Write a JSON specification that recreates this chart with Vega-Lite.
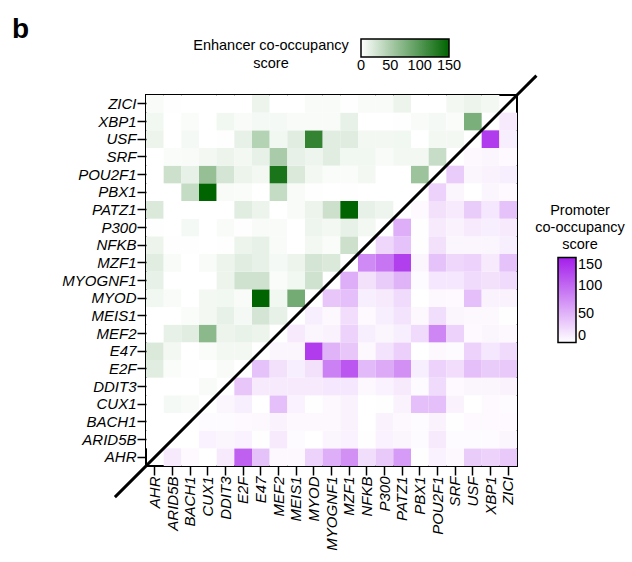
{
 "$schema": "https://vega.github.io/schema/vega-lite/v6.json",
 "width": 371,
 "height": 371,
 "autosize": {"type": "none"},
 "padding": {"left": 146, "top": 95, "right": 115, "bottom": 96},
 "title": {"text": "b", "anchor": "start", "frame": "group", "fontSize": 28, "fontWeight": "bold", "font": "Liberation Sans", "color": "black", "dx": -134, "dy": 9},
 "config": {
  "view": {"stroke": "black", "strokeWidth": 2},
  "font": "Liberation Sans",
  "axis": {"domain": false, "ticks": true, "tickColor": "black", "tickWidth": 1.5, "tickSize": 9, "labelColor": "black", "labelFontSize": 15, "labelFontStyle": "italic", "labelFont": "Liberation Sans", "labelPadding": 1},
  "legend": {"labelFontSize": 14.5, "labelColor": "black", "titleFontSize": 14.5, "titleFontWeight": "normal", "titleColor": "black", "titleFont": "Liberation Sans", "labelFont": "Liberation Sans", "gradientStrokeColor": "black", "gradientStrokeWidth": 1.5, "titleLineHeight": 18, "labelOverlap": false}
 },
 "datasets": {
  "pairs": [
   {"a":"AHR","b":"ARID5B","e":0,"p":14},{"a":"AHR","b":"BACH1","e":0,"p":4},{"a":"AHR","b":"CUX1","e":0,"p":0},{"a":"AHR","b":"DDIT3","e":0,"p":14},{"a":"AHR","b":"E2F","e":17,"p":106},{"a":"AHR","b":"E47","e":21,"p":41},{"a":"AHR","b":"MEF2","e":0,"p":5},{"a":"AHR","b":"MEIS1","e":0,"p":5},{"a":"AHR","b":"MYOD","e":8,"p":30},{"a":"AHR","b":"MYOGNF1","e":14,"p":54},{"a":"AHR","b":"MZF1","e":17,"p":74},{"a":"AHR","b":"NFKB","e":11,"p":23},{"a":"AHR","b":"P300","e":1,"p":36},{"a":"AHR","b":"PATZ1","e":21,"p":67},{"a":"AHR","b":"PBX1","e":0,"p":1},{"a":"AHR","b":"POU2F1","e":0,"p":9},{"a":"AHR","b":"SRF","e":0,"p":5},{"a":"AHR","b":"USF","e":11,"p":34},{"a":"AHR","b":"XBP1","e":8,"p":30},{"a":"AHR","b":"ZICI","e":4,"p":36},
   {"a":"ARID5B","b":"BACH1","e":0,"p":0},{"a":"ARID5B","b":"CUX1","e":6,"p":9},{"a":"ARID5B","b":"DDIT3","e":0,"p":7},{"a":"ARID5B","b":"E2F","e":3,"p":9},{"a":"ARID5B","b":"E47","e":7,"p":1},{"a":"ARID5B","b":"MEF2","e":14,"p":14},{"a":"ARID5B","b":"MEIS1","e":0,"p":3},{"a":"ARID5B","b":"MYOD","e":4,"p":0},{"a":"ARID5B","b":"MYOGNF1","e":0,"p":7},{"a":"ARID5B","b":"MZF1","e":4,"p":9},{"a":"ARID5B","b":"NFKB","e":1,"p":1},{"a":"ARID5B","b":"P300","e":0,"p":9},{"a":"ARID5B","b":"PATZ1","e":0,"p":7},{"a":"ARID5B","b":"PBX1","e":0,"p":3},{"a":"ARID5B","b":"POU2F1","e":30,"p":14},{"a":"ARID5B","b":"SRF","e":3,"p":3},{"a":"ARID5B","b":"USF","e":0,"p":3},{"a":"ARID5B","b":"XBP1","e":0,"p":3},{"a":"ARID5B","b":"ZICI","e":1,"p":7},
   {"a":"BACH1","b":"CUX1","e":4,"p":3},{"a":"BACH1","b":"DDIT3","e":0,"p":3},{"a":"BACH1","b":"E2F","e":1,"p":4},{"a":"BACH1","b":"E47","e":0,"p":5},{"a":"BACH1","b":"MEF2","e":17,"p":8},{"a":"BACH1","b":"MEIS1","e":3,"p":5},{"a":"BACH1","b":"MYOD","e":0,"p":5},{"a":"BACH1","b":"MYOGNF1","e":0,"p":5},{"a":"BACH1","b":"MZF1","e":0,"p":8},{"a":"BACH1","b":"NFKB","e":1,"p":0},{"a":"BACH1","b":"P300","e":6,"p":8},{"a":"BACH1","b":"PATZ1","e":0,"p":5},{"a":"BACH1","b":"PBX1","e":35,"p":3},{"a":"BACH1","b":"POU2F1","e":14,"p":8},{"a":"BACH1","b":"SRF","e":4,"p":1},{"a":"BACH1","b":"USF","e":6,"p":4},{"a":"BACH1","b":"XBP1","e":3,"p":4},{"a":"BACH1","b":"ZICI","e":0,"p":4},
   {"a":"CUX1","b":"DDIT3","e":4,"p":7},{"a":"CUX1","b":"E2F","e":0,"p":11},{"a":"CUX1","b":"E47","e":3,"p":0},{"a":"CUX1","b":"MEF2","e":68,"p":43},{"a":"CUX1","b":"MEIS1","e":7,"p":9},{"a":"CUX1","b":"MYOD","e":7,"p":1},{"a":"CUX1","b":"MYOGNF1","e":0,"p":5},{"a":"CUX1","b":"MZF1","e":4,"p":8},{"a":"CUX1","b":"NFKB","e":0,"p":0},{"a":"CUX1","b":"P300","e":0,"p":1},{"a":"CUX1","b":"PATZ1","e":0,"p":8},{"a":"CUX1","b":"PBX1","e":150,"p":43},{"a":"CUX1","b":"POU2F1","e":62,"p":43},{"a":"CUX1","b":"SRF","e":7,"p":8},{"a":"CUX1","b":"USF","e":0,"p":0},{"a":"CUX1","b":"XBP1","e":0,"p":4},{"a":"CUX1","b":"ZICI","e":0,"p":3},
   {"a":"DDIT3","b":"E2F","e":4,"p":38},{"a":"DDIT3","b":"E47","e":7,"p":14},{"a":"DDIT3","b":"MEF2","e":11,"p":14},{"a":"DDIT3","b":"MEIS1","e":14,"p":14},{"a":"DDIT3","b":"MYOD","e":8,"p":14},{"a":"DDIT3","b":"MYOGNF1","e":11,"p":16},{"a":"DDIT3","b":"MZF1","e":11,"p":16},{"a":"DDIT3","b":"NFKB","e":1,"p":5},{"a":"DDIT3","b":"P300","e":4,"p":9},{"a":"DDIT3","b":"PATZ1","e":0,"p":14},{"a":"DDIT3","b":"PBX1","e":4,"p":3},{"a":"DDIT3","b":"POU2F1","e":25,"p":24},{"a":"DDIT3","b":"SRF","e":11,"p":4},{"a":"DDIT3","b":"USF","e":1,"p":7},{"a":"DDIT3","b":"XBP1","e":8,"p":7},{"a":"DDIT3","b":"ZICI","e":0,"p":8},
   {"a":"E2F","b":"E47","e":7,"p":41},{"a":"E2F","b":"MEF2","e":13,"p":20},{"a":"E2F","b":"MEIS1","e":6,"p":11},{"a":"E2F","b":"MYOD","e":4,"p":20},{"a":"E2F","b":"MYOGNF1","e":28,"p":85},{"a":"E2F","b":"MZF1","e":17,"p":112},{"a":"E2F","b":"NFKB","e":11,"p":47},{"a":"E2F","b":"P300","e":1,"p":57},{"a":"E2F","b":"PATZ1","e":17,"p":74},{"a":"E2F","b":"PBX1","e":3,"p":11},{"a":"E2F","b":"POU2F1","e":11,"p":30},{"a":"E2F","b":"SRF","e":7,"p":22},{"a":"E2F","b":"USF","e":14,"p":43},{"a":"E2F","b":"XBP1","e":4,"p":34},{"a":"E2F","b":"ZICI","e":0,"p":36},
   {"a":"E47","b":"MEF2","e":11,"p":7},{"a":"E47","b":"MEIS1","e":25,"p":7},{"a":"E47","b":"MYOD","e":150,"p":130},{"a":"E47","b":"MYOGNF1","e":28,"p":51},{"a":"E47","b":"MZF1","e":14,"p":38},{"a":"E47","b":"NFKB","e":14,"p":5},{"a":"E47","b":"P300","e":4,"p":19},{"a":"E47","b":"PATZ1","e":11,"p":32},{"a":"E47","b":"PBX1","e":0,"p":0},{"a":"E47","b":"POU2F1","e":7,"p":5},{"a":"E47","b":"SRF","e":14,"p":3},{"a":"E47","b":"USF","e":44,"p":30},{"a":"E47","b":"XBP1","e":6,"p":16},{"a":"E47","b":"ZICI","e":11,"p":24},
   {"a":"MEF2","b":"MEIS1","e":14,"p":14},{"a":"MEF2","b":"MYOD","e":8,"p":7},{"a":"MEF2","b":"MYOGNF1","e":3,"p":8},{"a":"MEF2","b":"MZF1","e":6,"p":30},{"a":"MEF2","b":"NFKB","e":4,"p":11},{"a":"MEF2","b":"P300","e":4,"p":7},{"a":"MEF2","b":"PATZ1","e":0,"p":11},{"a":"MEF2","b":"PBX1","e":35,"p":24},{"a":"MEF2","b":"POU2F1","e":135,"p":81},{"a":"MEF2","b":"SRF","e":50,"p":30},{"a":"MEF2","b":"USF","e":8,"p":4},{"a":"MEF2","b":"XBP1","e":6,"p":7},{"a":"MEF2","b":"ZICI","e":0,"p":5},
   {"a":"MEIS1","b":"MYOD","e":82,"p":11},{"a":"MEIS1","b":"MYOGNF1","e":8,"p":5},{"a":"MEIS1","b":"MZF1","e":11,"p":22},{"a":"MEIS1","b":"NFKB","e":0,"p":4},{"a":"MEIS1","b":"P300","e":0,"p":11},{"a":"MEIS1","b":"PATZ1","e":4,"p":19},{"a":"MEIS1","b":"PBX1","e":4,"p":5},{"a":"MEIS1","b":"POU2F1","e":21,"p":23},{"a":"MEIS1","b":"SRF","e":14,"p":7},{"a":"MEIS1","b":"USF","e":17,"p":5},{"a":"MEIS1","b":"XBP1","e":4,"p":5},{"a":"MEIS1","b":"ZICI","e":0,"p":1},
   {"a":"MYOD","b":"MYOGNF1","e":28,"p":38},{"a":"MYOD","b":"MZF1","e":25,"p":43},{"a":"MYOD","b":"NFKB","e":7,"p":11},{"a":"MYOD","b":"P300","e":10,"p":14},{"a":"MYOD","b":"PATZ1","e":11,"p":24},{"a":"MYOD","b":"PBX1","e":1,"p":0},{"a":"MYOD","b":"POU2F1","e":7,"p":5},{"a":"MYOD","b":"SRF","e":10,"p":4},{"a":"MYOD","b":"USF","e":120,"p":43},{"a":"MYOD","b":"XBP1","e":4,"p":8},{"a":"MYOD","b":"ZICI","e":4,"p":8},
   {"a":"MYOGNF1","b":"MZF1","e":21,"p":54},{"a":"MYOGNF1","b":"NFKB","e":3,"p":20},{"a":"MYOGNF1","b":"P300","e":7,"p":34},{"a":"MYOGNF1","b":"PATZ1","e":30,"p":51},{"a":"MYOGNF1","b":"PBX1","e":0,"p":3},{"a":"MYOGNF1","b":"POU2F1","e":3,"p":16},{"a":"MYOGNF1","b":"SRF","e":17,"p":16},{"a":"MYOGNF1","b":"USF","e":17,"p":24},{"a":"MYOGNF1","b":"XBP1","e":4,"p":20},{"a":"MYOGNF1","b":"ZICI","e":4,"p":24},
   {"a":"MZF1","b":"NFKB","e":30,"p":78},{"a":"MZF1","b":"P300","e":14,"p":92},{"a":"MZF1","b":"PATZ1","e":150,"p":128},{"a":"MZF1","b":"PBX1","e":1,"p":7},{"a":"MZF1","b":"POU2F1","e":3,"p":41},{"a":"MZF1","b":"SRF","e":8,"p":27},{"a":"MZF1","b":"USF","e":18,"p":30},{"a":"MZF1","b":"XBP1","e":14,"p":14},{"a":"MZF1","b":"ZICI","e":1,"p":41},
   {"a":"NFKB","b":"P300","e":7,"p":27},{"a":"NFKB","b":"PATZ1","e":14,"p":41},{"a":"NFKB","b":"PBX1","e":0,"p":1},{"a":"NFKB","b":"POU2F1","e":7,"p":20},{"a":"NFKB","b":"SRF","e":8,"p":7},{"a":"NFKB","b":"USF","e":7,"p":7},{"a":"NFKB","b":"XBP1","e":0,"p":7},{"a":"NFKB","b":"ZICI","e":4,"p":11},
   {"a":"P300","b":"PATZ1","e":10,"p":54},{"a":"P300","b":"PBX1","e":0,"p":1},{"a":"P300","b":"POU2F1","e":0,"p":14},{"a":"P300","b":"SRF","e":4,"p":8},{"a":"P300","b":"USF","e":7,"p":14},{"a":"P300","b":"XBP1","e":0,"p":11},{"a":"P300","b":"ZICI","e":4,"p":14},
   {"a":"PATZ1","b":"PBX1","e":0,"p":4},{"a":"PATZ1","b":"POU2F1","e":0,"p":20},{"a":"PATZ1","b":"SRF","e":7,"p":14},{"a":"PATZ1","b":"USF","e":8,"p":34},{"a":"PATZ1","b":"XBP1","e":1,"p":16},{"a":"PATZ1","b":"ZICI","e":11,"p":41},
   {"a":"PBX1","b":"POU2F1","e":58,"p":30},{"a":"PBX1","b":"SRF","e":7,"p":7},{"a":"PBX1","b":"USF","e":0,"p":0},{"a":"PBX1","b":"XBP1","e":4,"p":7},{"a":"PBX1","b":"ZICI","e":0,"p":4},
   {"a":"POU2F1","b":"SRF","e":33,"p":34},{"a":"POU2F1","b":"USF","e":7,"p":7},{"a":"POU2F1","b":"XBP1","e":6,"p":8},{"a":"POU2F1","b":"ZICI","e":0,"p":11},
   {"a":"SRF","b":"USF","e":7,"p":5},{"a":"SRF","b":"XBP1","e":3,"p":7},{"a":"SRF","b":"ZICI","e":7,"p":4},
   {"a":"USF","b":"XBP1","e":78,"p":130},{"a":"USF","b":"ZICI","e":11,"p":11},
   {"a":"XBP1","b":"ZICI","e":7,"p":14}
  ]
 },
 "layer": [
  {
   "data": {"name": "pairs"},
   "layer": [
    {
     "mark": {"type": "rect"},
     "encoding": {
      "x": {"field": "a", "type": "nominal", "title": null, "scale": {"domain": ["AHR","ARID5B","BACH1","CUX1","DDIT3","E2F","E47","MEF2","MEIS1","MYOD","MYOGNF1","MZF1","NFKB","P300","PATZ1","PBX1","POU2F1","SRF","USF","XBP1","ZICI"]}, "axis": {"labelAngle": -90, "orient": "bottom"}},
      "y": {"field": "b", "type": "nominal", "title": null, "scale": {"domain": ["ZICI","XBP1","USF","SRF","POU2F1","PBX1","PATZ1","P300","NFKB","MZF1","MYOGNF1","MYOD","MEIS1","MEF2","E47","E2F","DDIT3","CUX1","BACH1","ARID5B","AHR"]}},
      "color": {"field": "e", "type": "quantitative", "scale": {"domain": [0, 150], "range": ["#ffffff", "#006400"], "interpolate": "rgb", "clamp": true},
       "legend": {"orient": "none", "legendX": 47, "legendY": -56, "direction": "horizontal", "titleOrient": "left", "title": ["Enhancer co-occupancy", "score"], "titleAlign": "center", "titlePadding": -66, "gradientLength": 88, "gradientThickness": 18, "values": [0, 50, 100, 150],
        "encode": {"labels": {"update": {"align": {"value": "center"}}}, "title": {"update": {"dy": {"value": 7}}}}}}
     }
    },
    {
     "mark": {"type": "rect"},
     "encoding": {
      "x": {"field": "b", "type": "nominal", "title": null, "scale": {"domain": ["AHR","ARID5B","BACH1","CUX1","DDIT3","E2F","E47","MEF2","MEIS1","MYOD","MYOGNF1","MZF1","NFKB","P300","PATZ1","PBX1","POU2F1","SRF","USF","XBP1","ZICI"]}, "axis": {"labelAngle": -90, "orient": "bottom"}},
      "y": {"field": "a", "type": "nominal", "title": null, "scale": {"domain": ["ZICI","XBP1","USF","SRF","POU2F1","PBX1","PATZ1","P300","NFKB","MZF1","MYOGNF1","MYOD","MEIS1","MEF2","E47","E2F","DDIT3","CUX1","BACH1","ARID5B","AHR"]}},
      "color": {"field": "p", "type": "quantitative", "scale": {"domain": [0, 150], "range": ["#ffffff", "#a41eeb"], "interpolate": "rgb", "clamp": true},
       "legend": {"orient": "none", "legendX": 389, "legendY": 109, "direction": "vertical", "title": ["Promoter", "co-occupancy", "score"], "titleAlign": "center", "titleAnchor": "middle", "titleLineHeight": 17, "gradientLength": 85, "gradientThickness": 18, "values": [0, 50, 100, 150]}}
     }
    }
   ],
   "resolve": {"scale": {"color": "independent"}}
  },
  {
   "data": {"values": [{"t": -1.76}, {"t": 22.1}]},
   "mark": {"type": "line", "color": "black", "strokeWidth": 3, "clip": false},
   "encoding": {
    "x": {"field": "t", "type": "quantitative", "scale": {"domain": [0, 21], "nice": false, "zero": false}, "axis": null},
    "y": {"field": "t", "type": "quantitative", "scale": {"domain": [0, 21], "nice": false, "zero": false}, "axis": null}
   }
  }
 ],
 "resolve": {"scale": {"x": "independent", "y": "independent", "color": "independent"}}
}
